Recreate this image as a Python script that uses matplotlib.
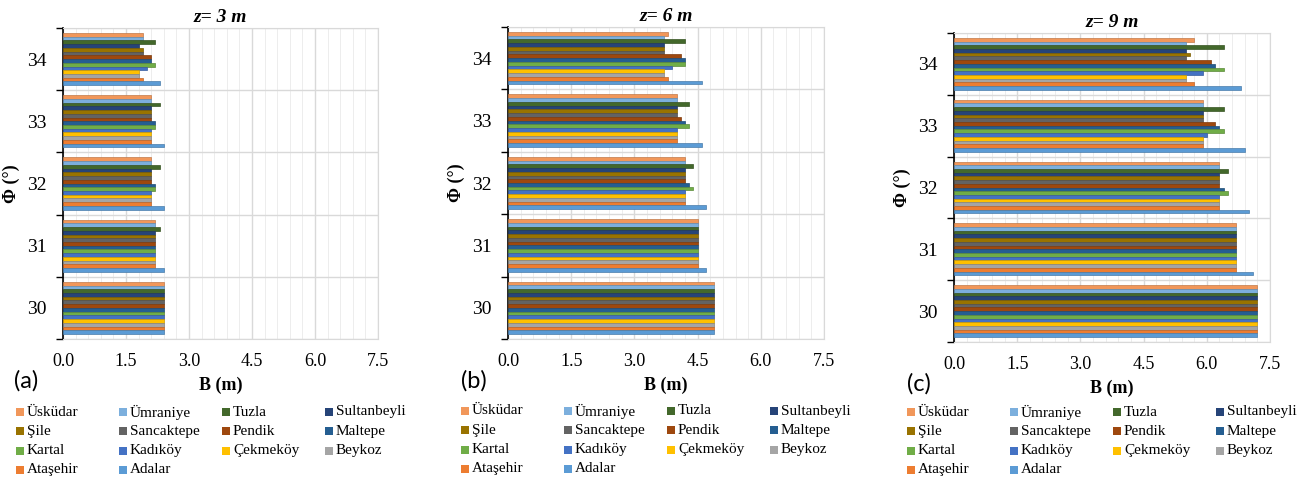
import matplotlib
matplotlib.use("Agg")
import matplotlib.pyplot as plt
import matplotlib.colors as mcolors
from matplotlib.patches import Rectangle
import numpy as np

plt.rcParams['font.family'] = ['Liberation Serif', 'DejaVu Serif']

# districts, top bar to bottom bar (same as legend order)
districts = ['Üsküdar', 'Ümraniye', 'Tuzla', 'Sultanbeyli', 'Şile', 'Sancaktepe', 'Pendik',
             'Maltepe', 'Kartal', 'Kadıköy', 'Çekmeköy', 'Beykoz', 'Ataşehir', 'Adalar']
colors = ['#F1975A', '#7CAFDD', '#43682B', '#264478', '#997300', '#636363', '#9E480E',
          '#255E91', '#70AD47', '#4472C4', '#FFC000', '#A5A5A5', '#ED7D31', '#5B9BD5']

phi = [30, 31, 32, 33, 34]

# B (m) per district, columns = phi 30..34
b_z3 = [
    [2.4, 2.2, 2.1, 2.1, 1.9],
    [2.4, 2.2, 2.1, 2.1, 1.9],
    [2.4, 2.3, 2.3, 2.3, 2.2],
    [2.4, 2.2, 2.1, 2.1, 1.8],
    [2.4, 2.2, 2.1, 2.1, 1.9],
    [2.4, 2.2, 2.1, 2.1, 1.9],
    [2.4, 2.2, 2.1, 2.1, 2.1],
    [2.4, 2.2, 2.2, 2.2, 2.1],
    [2.4, 2.2, 2.2, 2.2, 2.2],
    [2.4, 2.2, 2.1, 2.1, 2.0],
    [2.4, 2.2, 2.1, 2.1, 1.8],
    [2.4, 2.2, 2.1, 2.1, 1.8],
    [2.4, 2.2, 2.1, 2.1, 1.9],
    [2.4, 2.4, 2.4, 2.4, 2.3],
]
b_z6 = [
    [4.9, 4.5, 4.2, 4.0, 3.8],
    [4.9, 4.5, 4.2, 4.0, 3.7],
    [4.9, 4.5, 4.4, 4.3, 4.2],
    [4.9, 4.5, 4.2, 4.0, 3.7],
    [4.9, 4.5, 4.2, 4.0, 3.7],
    [4.9, 4.5, 4.2, 4.0, 3.7],
    [4.9, 4.5, 4.2, 4.1, 4.1],
    [4.9, 4.5, 4.3, 4.2, 4.2],
    [4.9, 4.5, 4.4, 4.3, 4.2],
    [4.9, 4.5, 4.2, 4.0, 3.9],
    [4.9, 4.5, 4.2, 4.0, 3.7],
    [4.9, 4.5, 4.2, 4.0, 3.7],
    [4.9, 4.5, 4.2, 4.0, 3.8],
    [4.9, 4.7, 4.7, 4.6, 4.6],
]
b_z9 = [
    [7.2, 6.7, 6.3, 5.9, 5.7],
    [7.2, 6.7, 6.3, 5.9, 5.5],
    [7.2, 6.7, 6.5, 6.4, 6.4],
    [7.2, 6.7, 6.3, 5.9, 5.5],
    [7.2, 6.7, 6.3, 5.9, 5.6],
    [7.2, 6.7, 6.3, 5.9, 5.5],
    [7.2, 6.7, 6.3, 6.2, 6.1],
    [7.2, 6.7, 6.4, 6.3, 6.2],
    [7.2, 6.7, 6.5, 6.4, 6.4],
    [7.2, 6.7, 6.3, 6.0, 5.9],
    [7.2, 6.7, 6.3, 5.9, 5.5],
    [7.2, 6.7, 6.3, 5.9, 5.5],
    [7.2, 6.7, 6.3, 5.9, 5.7],
    [7.2, 7.1, 7.0, 6.9, 6.8],
]

W, H = 1309, 482
fig = plt.figure(figsize=(W / 100, H / 100), dpi=100)


def px(x, y):
    return x / W, 1 - y / H


panels = [
    # data, title, tag, axes box px (left, top, right, bottom), tag pos, legend origin
    (b_z3, 'z= 3 m', '(a)', (63, 28, 378, 339), (26, 381), (16, 412)),
    (b_z6, 'z= 6 m', '(b)', (508, 27, 824, 339), (474, 381), (461, 411)),
    (b_z9, 'z= 9 m', '(c)', (954, 33, 1270, 342), (919, 384), (907, 412)),
]

n = len(districts)
bh = 0.06
phi_arr = np.array(phi)

for data, title, tag, box, tagpos, legpos in panels:
    l, t, r, b = box
    ax = fig.add_axes([l / W, 1 - b / H, (r - l) / W, (b - t) / H])
    for i in range(n):
        off = (n - 1) / 2 * bh - i * bh
        ec = np.array(mcolors.to_rgb(colors[i])) * 0.8
        ax.barh(phi_arr + off, data[i], height=bh, color=colors[i],
                edgecolor=ec, linewidth=0.5, zorder=3)
    ax.set_xlim(0, 7.5)
    ax.set_ylim(29.5, 34.5)
    ax.set_xticks(np.arange(0, 7.51, 1.5))
    ax.set_xticklabels(['%.1f' % v for v in np.arange(0, 7.51, 1.5)])
    ax.set_xticks(np.arange(0, 7.51, 0.3), minor=True)
    ax.set_yticks(phi)
    ax.set_yticks(np.arange(29.5, 34.6, 1.0), minor=True)
    ax.grid(axis='x', which='major', color='#D9D9D9', lw=1.0, zorder=0)
    ax.grid(axis='x', which='minor', color='#EDEDED', lw=0.7, zorder=0)
    ax.grid(axis='y', which='minor', color='#D9D9D9', lw=1.0, zorder=0)
    ax.tick_params(axis='x', which='both', length=0, labelsize=13, pad=10)
    ax.tick_params(axis='y', which='major', length=0, labelsize=14, pad=12)
    ax.tick_params(axis='y', which='minor', length=5, width=1, color='black', direction='out')
    for s in ['top', 'right', 'bottom']:
        ax.spines[s].set_color('#D9D9D9')
    ax.spines['left'].set_color('black')
    ax.spines['left'].set_linewidth(1.2)
    ax.set_title(title, fontsize=14, fontweight='bold', style='italic', pad=4)
    ax.set_xlabel('B (m)', fontsize=13, fontweight='bold', labelpad=5)
    ax.set_ylabel('Φ (°)', fontsize=13, fontweight='bold', labelpad=5)

    fig.text(*px(*tagpos), tag, family=['Lato', 'DejaVu Sans'], fontsize=17,
             ha='center', va='center')

    # legend, 4 columns, evenly spaced
    lx, ly = legpos
    for i, name in enumerate(districts):
        col, row = i % 4, i // 4
        sx = lx + col * 103
        sy = ly + row * 19.3
        x0, y0 = px(sx, sy + 4)
        fig.patches.append(Rectangle((x0, y0), 8 / W, 8 / H, transform=fig.transFigure,
                                     facecolor=colors[i], edgecolor='none'))
        fig.text(*px(sx + 11, sy), name, fontsize=11, ha='left', va='center')

fig.savefig('out.png', dpi=100)
